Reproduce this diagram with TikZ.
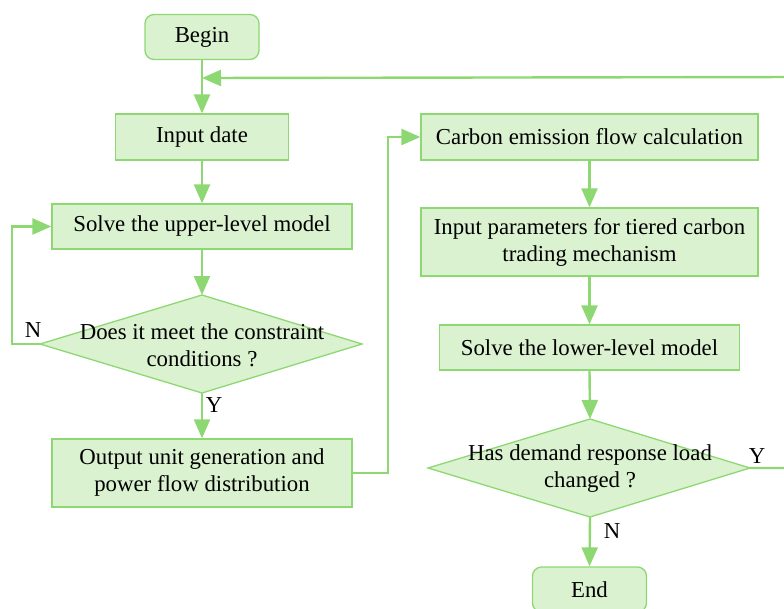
\documentclass[tikz,border=0pt]{standalone}
\usepackage{fontspec}
\setmainfont{Liberation Serif}
\usetikzlibrary{arrows.meta,calc}
\definecolor{lineg}{RGB}{141,216,114}
\definecolor{fillg}{RGB}{218,242,208}
\tikzset{
  every node/.style={font=\fontsize{22.8}{27}\selectfont, text=black},
  proc/.style={draw=lineg, fill=fillg, line width=1.3pt, inner sep=0pt, align=center},
  term/.style={proc, rounded corners=9pt, minimum width=114pt, minimum height=45pt},
  decshape/.style={draw=lineg, fill=fillg, line width=1.3pt},
  conn/.style={draw=lineg, line width=2.4pt},
  arr/.style={conn, -{Triangle[width=16pt,length=19pt]}},
  lbl/.style={inner sep=0pt}
}
\begin{document}
\begin{tikzpicture}[x=1pt,y=-1pt]
\useasboundingbox (0,0) rectangle (784,608);
\clip (0,0) rectangle (784,608);
% nodes
\node[term] (begin) at (202,37) {\raisebox{-1.5pt}{Begin}};
\node[proc, minimum width=173pt, minimum height=46pt] (input) at (202,137) {\raisebox{-1.5pt}{Input date}};
\node[proc, minimum width=300pt, minimum height=45pt] (upper) at (202,226.5) {\raisebox{-1.5pt}{Solve the upper-level model}};
\path[decshape] (40,344) -- (202,295) -- (362,344) -- (202,393) -- cycle;
\coordinate (d1l) at (40,344);
\coordinate (d1t) at (202,295);
\coordinate (d1b) at (202,393);
\node[align=center, inner sep=0pt] (d1) at (202,345) {Does it meet the constraint\\conditions ?};
\node[proc, minimum width=300pt, minimum height=68pt] (output) at (202,473) {Output unit generation and\\power flow distribution};
\node[proc, minimum width=337pt, minimum height=46pt] (carbon) at (589.5,137) {\raisebox{-1.5pt}{Carbon emission flow calculation}};
\node[proc, minimum width=337pt, minimum height=68pt] (params) at (589.5,242) {Input parameters for tiered carbon\\trading mechanism};
\node[proc, minimum width=300pt, minimum height=45pt] (lower) at (589.5,347.5) {\raisebox{-1.5pt}{Solve the lower-level model}};
\path[decshape] (428,468) -- (590,419) -- (750,468) -- (590,517) -- cycle;
\coordinate (d2r) at (750,468);
\coordinate (d2t) at (590,419);
\coordinate (d2b) at (590,517);
\node[align=center, inner sep=0pt] (d2) at (590,469) {Has demand response load\\changed ?};
\node[term] (end) at (589.5,589.5) {\raisebox{-1.5pt}{End}};
% connectors
\coordinate (J) at (202,78);
\coordinate (R1) at (800,468);
\coordinate (R2) at (800,77);
\coordinate (L1) at (12,344);
\coordinate (M1) at (388,473);
\draw[arr] (begin.south) -- (input.north);
\draw[arr] (R1 -| d2r) -- (R1) -- (R2) -- (J);
\draw[conn] (d2r) -- (R1);
\draw[arr] (input.south) -- (upper.north);
\draw[arr] (upper.south) -- (d1t);
\draw[arr] (d1l) -- (L1) |- (upper.west);
\draw[arr] (d1b) -- (output.north);
\draw[arr] (output.east) -- (M1) |- (carbon.west);
\draw[arr] (carbon.south) -- (params.north);
\draw[arr] (params.south) -- (lower.north);
\draw[arr] (lower.south) -- (d2t);
\draw[arr] (d2b) -- (end.north);
% labels
\node[lbl] (ln1) at (33,330) {N};
\node[lbl] (ly1) at (214,405) {Y};
\node[lbl] (ly2) at (757,456) {Y};
\node[lbl] (ln2) at (612,531) {N};
\end{tikzpicture}
\end{document}
